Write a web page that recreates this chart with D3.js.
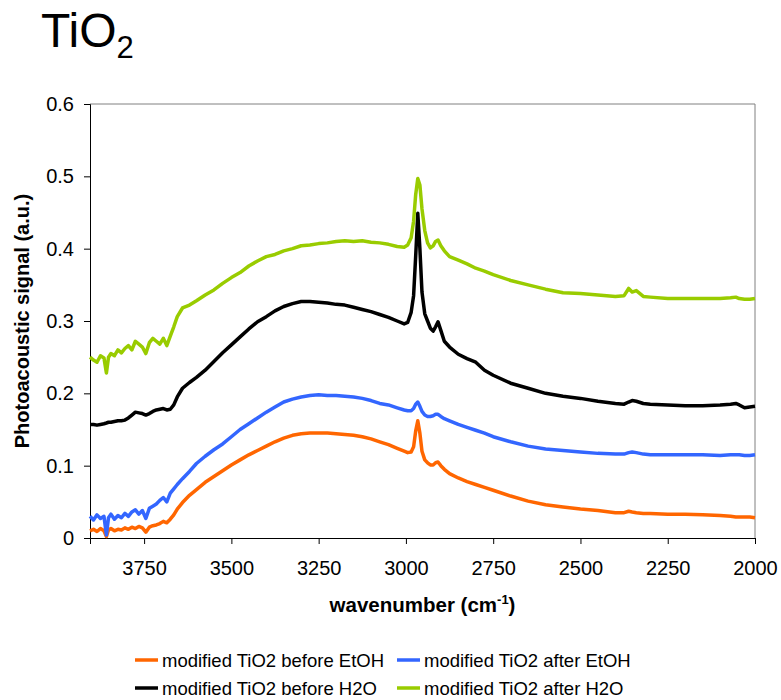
<!DOCTYPE html>
<html>
<head>
<meta charset="utf-8">
<script src="https://cdn.jsdelivr.net/npm/d3@7"></script>
<style>
  body { margin: 0; background: #fff; }
  text { font-family: "Liberation Sans", Arial, sans-serif; }
</style>
</head>
<body>
<div id="chart"></div>
<script>
/* DATA */
const wavenumber = [
  3905, 3895, 3885, 3875, 3865, 3858, 3852, 3845, 3835, 3825,
  3815, 3805, 3795, 3785, 3775, 3765, 3755, 3745, 3735, 3725,
  3715, 3705, 3695, 3685, 3675, 3665, 3655, 3640, 3620, 3600,
  3575, 3550, 3525, 3500, 3475, 3450, 3425, 3400, 3375, 3350,
  3325, 3300, 3275, 3250, 3225, 3200, 3175, 3150, 3125, 3100,
  3075, 3050, 3025, 3005, 2995, 2985, 2978, 2972, 2966, 2960,
  2954, 2946, 2938, 2930, 2922, 2915, 2908, 2900, 2890, 2875,
  2850, 2825, 2800, 2775, 2750, 2700, 2650, 2600, 2550, 2500,
  2450, 2400, 2375, 2362, 2352, 2340, 2320, 2300, 2250, 2200,
  2150, 2100, 2070, 2055, 2045, 2030, 2015, 2000
];

const beforeEtOH = [
  0.010, 0.012, 0.009, 0.013, 0.010, 0.002, 0.011, 0.013, 0.010, 0.012,
  0.011, 0.014, 0.012, 0.015, 0.013, 0.016, 0.014, 0.008, 0.015, 0.017,
  0.018, 0.020, 0.023, 0.021, 0.026, 0.032, 0.040, 0.049, 0.059, 0.067,
  0.077, 0.085, 0.093, 0.101, 0.108, 0.115, 0.121, 0.127, 0.133, 0.138,
  0.142, 0.144, 0.145, 0.145, 0.145, 0.144, 0.143, 0.142, 0.140, 0.137,
  0.133, 0.129, 0.124, 0.120, 0.118, 0.119, 0.126, 0.148, 0.162, 0.145,
  0.120, 0.108, 0.104, 0.101, 0.101, 0.104, 0.105, 0.100, 0.095, 0.089,
  0.083, 0.078, 0.074, 0.070, 0.066, 0.058, 0.051, 0.046, 0.043, 0.040,
  0.038, 0.035, 0.035, 0.037, 0.036, 0.035, 0.034, 0.034, 0.033, 0.033,
  0.032, 0.031, 0.030, 0.029, 0.029, 0.029, 0.029, 0.028
];

const afterEtOH = [
  0.030, 0.025, 0.032, 0.027, 0.030, 0.004, 0.028, 0.033, 0.026, 0.031,
  0.028, 0.034, 0.030, 0.036, 0.039, 0.033, 0.038, 0.027, 0.041, 0.044,
  0.047, 0.052, 0.056, 0.050, 0.062, 0.068, 0.074, 0.082, 0.092, 0.103,
  0.113, 0.122, 0.130, 0.140, 0.150, 0.158, 0.166, 0.174, 0.181, 0.188,
  0.192, 0.195, 0.197, 0.198, 0.197, 0.197, 0.196, 0.195, 0.193, 0.190,
  0.186, 0.184, 0.180, 0.177, 0.176, 0.176, 0.179, 0.185, 0.188, 0.182,
  0.175, 0.170, 0.168, 0.168, 0.169, 0.171, 0.171, 0.168, 0.165, 0.162,
  0.157, 0.153, 0.149, 0.145, 0.140, 0.133, 0.127, 0.123, 0.121, 0.119,
  0.117, 0.116, 0.116, 0.118, 0.119, 0.118, 0.116, 0.115, 0.115, 0.115,
  0.115, 0.114, 0.115, 0.115, 0.115, 0.114, 0.114, 0.115
];

const beforeH2O = [
  0.157, 0.157, 0.156, 0.157, 0.158, 0.159, 0.160, 0.160, 0.161, 0.162,
  0.162, 0.163, 0.166, 0.170, 0.174, 0.173, 0.172, 0.170, 0.172, 0.175,
  0.177, 0.178, 0.179, 0.177, 0.178, 0.184, 0.195, 0.207, 0.215, 0.222,
  0.232, 0.244, 0.256, 0.267, 0.278, 0.289, 0.299, 0.306, 0.314, 0.320,
  0.324, 0.327, 0.327, 0.326, 0.325, 0.323, 0.322, 0.319, 0.316, 0.313,
  0.309, 0.305, 0.300, 0.296, 0.298, 0.312, 0.335, 0.390, 0.449, 0.400,
  0.340, 0.310, 0.300, 0.290, 0.286, 0.292, 0.299, 0.287, 0.272, 0.264,
  0.254, 0.248, 0.243, 0.232, 0.225, 0.214, 0.207, 0.200, 0.196, 0.193,
  0.189, 0.186, 0.185, 0.188, 0.190, 0.189, 0.186, 0.185, 0.184, 0.183,
  0.183, 0.184, 0.185, 0.186, 0.184, 0.180, 0.181, 0.182
];

const afterH2O = [
  0.250, 0.246, 0.243, 0.252, 0.249, 0.228, 0.250, 0.255, 0.252, 0.260,
  0.256, 0.262, 0.266, 0.260, 0.272, 0.268, 0.264, 0.255, 0.270, 0.276,
  0.272, 0.268, 0.276, 0.266, 0.279, 0.292, 0.306, 0.318, 0.322, 0.328,
  0.336, 0.343, 0.352, 0.360, 0.367, 0.376, 0.383, 0.389, 0.392, 0.397,
  0.400, 0.404, 0.405, 0.407, 0.408, 0.410, 0.411, 0.410, 0.411, 0.409,
  0.408, 0.406, 0.403, 0.402, 0.405, 0.415, 0.438, 0.475, 0.497, 0.488,
  0.455, 0.425, 0.408, 0.401, 0.404, 0.410, 0.412, 0.404, 0.397, 0.389,
  0.384, 0.379, 0.373, 0.369, 0.364, 0.356, 0.350, 0.344, 0.339, 0.338,
  0.336, 0.334, 0.335, 0.345, 0.340, 0.342, 0.334, 0.333, 0.331, 0.331,
  0.331, 0.331, 0.332, 0.333, 0.331, 0.330, 0.330, 0.331
];

const seriesNames = [
  "modified TiO2 before EtOH",
  "modified TiO2 after EtOH",
  "modified TiO2 before H2O",
  "modified TiO2 after H2O"
];
const seriesValues = [beforeEtOH, afterEtOH, beforeH2O, afterH2O];
const seriesColors = ["#FF6600", "#3366FF", "#000000", "#99CC00"];

const xTicks = [3750, 3500, 3250, 3000, 2750, 2500, 2250, 2000];
const yTicks = [0, 0.1, 0.2, 0.3, 0.4, 0.5, 0.6];

/* CONSTANTS */
const width = 781,
      height = 700,
      margin = {top: 104, bottom: 162, left: 90, right: 26};

const svg = d3.select("#chart")
  .append("svg")
    .attr("width", width)
    .attr("height", height);

/* SCALES */
const xScale = d3.scaleLinear()
  .domain([3905, 2000])
  .range([margin.left, width - margin.right]);

const yScale = d3.scaleLinear()
  .domain([0, 0.6])
  .range([height - margin.bottom, margin.top]);

/* TITLE */
const title = svg.append("text")
  .attr("x", 41)
  .attr("y", 47)
  .style("font-size", "48px")
  .style("fill", "#000");
title.append("tspan").text("TiO");
title.append("tspan")
  .attr("dy", 11)
  .style("font-size", "31px")
  .text("2");

/* PLOT FRAME (top/right) */
svg.append("path")
  .attr("d", `M${xScale.range()[0]},${yScale(0.6)}H${xScale.range()[1]}V${yScale(0)}`)
  .attr("fill", "none")
  .attr("stroke", "#808080")
  .attr("stroke-width", 1);

/* Y AXIS */
const yAxis = svg.append("g")
  .attr("transform", `translate(${margin.left},0)`)
  .call(d3.axisLeft(yScale)
    .tickValues(yTicks)
    .tickSize(6)
    .tickPadding(10)
    .tickFormat(d => d === 0 ? "0" : d3.format(".1f")(d)));
yAxis.selectAll("text")
  .style("font-size", "20px")
  .style("font-family", "'Liberation Sans', Arial, sans-serif")
  .attr("fill", "#000");
yAxis.selectAll("line, path").attr("stroke", "#000");

/* X AXIS */
const xAxis = svg.append("g")
  .attr("transform", `translate(0,${yScale(0)})`)
  .call(d3.axisBottom(xScale)
    .tickValues(xTicks)
    .tickSize(6)
    .tickSizeOuter(6)
    .tickPadding(17)
    .tickFormat(d3.format("d")));
xAxis.selectAll("text")
  .style("font-size", "20px")
  .style("font-family", "'Liberation Sans', Arial, sans-serif")
  .attr("fill", "#000");
xAxis.selectAll("line, path").attr("stroke", "#000");

/* AXIS TITLES */
svg.append("text")
  .attr("transform", `translate(29,${(yScale(0) + yScale(0.6)) / 2}) rotate(-90)`)
  .attr("text-anchor", "middle")
  .style("font-size", "20px")
  .style("font-weight", "bold")
  .text("Photoacoustic signal (a.u.)");

const xTitle = svg.append("text")
  .attr("x", (xScale.range()[0] + xScale.range()[1]) / 2)
  .attr("y", 612)
  .attr("text-anchor", "middle")
  .style("font-size", "20.5px")
  .style("font-weight", "bold");
xTitle.append("tspan").text("wavenumber (cm");
xTitle.append("tspan").attr("dy", -8).style("font-size", "13px").text("-1");
xTitle.append("tspan").attr("dy", 8).text(")");

/* LINES */
const line = d3.line()
  .x((d, i) => xScale(wavenumber[i]))
  .y(d => yScale(d));

svg.selectAll(".series")
  .data(seriesValues)
  .join("path")
    .attr("class", "series")
    .attr("d", d => line(d))
    .attr("fill", "none")
    .attr("stroke", (d, i) => seriesColors[i])
    .attr("stroke-width", 3.5)
    .attr("stroke-linejoin", "round");

/* LEGEND */
const legendPos = [[135, 660], [397, 660], [135, 688], [397, 688]];
const legend = svg.selectAll(".legend")
  .data(seriesNames)
  .join("g")
    .attr("class", "legend")
    .attr("transform", (d, i) => `translate(${legendPos[i][0]},${legendPos[i][1]})`);

legend.append("line")
  .attr("x1", 0).attr("x2", 23)
  .attr("stroke", (d, i) => seriesColors[i])
  .attr("stroke-width", 3.5);

legend.append("text")
  .attr("x", 27)
  .attr("y", 7)
  .style("font-size", "18.5px")
  .text(d => d);
</script>
</body>
</html>
